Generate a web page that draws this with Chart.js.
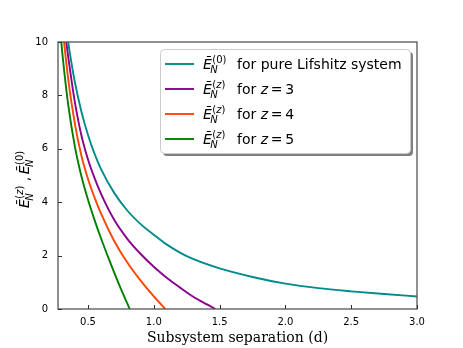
<!DOCTYPE html>
<html>
<head>
<meta charset="utf-8">
<script src="https://cdn.jsdelivr.net/npm/chart.js@4"></script>
<style>
    body { margin: 0; background: #fff; }
    canvas { display: block; }
</style>
</head>
<body>
<canvas id="myChart" width="463" height="348"></canvas>
<script>
// Data: subsystem separation d and negativity values
const dPure = [0.34, 0.36, 0.40, 0.45, 0.50, 0.55, 0.60, 0.70, 0.80, 0.90, 1.00, 1.10, 1.25, 1.50, 1.75, 2.00, 2.25, 2.50, 2.75, 3.00];
const ePure = [10.33, 9.65, 8.5, 7.39, 6.52, 5.81, 5.23, 4.34, 3.68, 3.18, 2.78, 2.41, 1.98, 1.52, 1.2, 0.95, 0.78, 0.66, 0.56, 0.47];

const dZ3 = [0.32, 0.335, 0.35, 0.375, 0.40, 0.45, 0.50, 0.55, 0.60, 0.70, 0.80, 0.90, 1.00, 1.10, 1.20, 1.30, 1.40, 1.468];
const eZ3 = [10.65, 10.0, 9.42, 8.55, 7.75, 6.5, 5.6, 4.9, 4.3, 3.33, 2.62, 2.06, 1.58, 1.16, 0.8, 0.46, 0.18, 0];

const dZ4 = [0.30, 0.318, 0.35, 0.40, 0.45, 0.50, 0.55, 0.60, 0.70, 0.80, 0.90, 1.00, 1.088];
const eZ4 = [10.9, 10.0, 8.59, 6.94, 5.74, 4.87, 4.17, 3.56, 2.54, 1.73, 1.06, 0.47, 0];

const dZ5 = [0.28, 0.297, 0.32, 0.35, 0.40, 0.45, 0.50, 0.55, 0.60, 0.65, 0.70, 0.75, 0.80, 0.817];
const eZ5 = [11.05, 10.0, 8.87, 7.64, 6.09, 4.97, 4.09, 3.33, 2.63, 1.98, 1.35, 0.75, 0.19, 0];

const xTicks = [0.5, 1.0, 1.5, 2.0, 2.5, 3.0];
const yTicks = [0, 2, 4, 6, 8, 10];

const seriesSup = ['0', 'z', 'z', 'z'];
const seriesZ = [null, '3', '4', '5'];
const colors = ['#008b8b', '#8b008b', '#ff4500', '#008000'];

const toPoints = (xs, ys) => xs.map((x, i) => ({ x: x, y: ys[i] }));
const allData = [toPoints(dPure, ePure), toPoints(dZ3, eZ3), toPoints(dZ4, eZ4), toPoints(dZ5, eZ5)];

const FONT = '"DejaVu Sans"';

// draws a list of text runs left to right, returns end x
function drawRuns(ctx, runs, x, y) {
    runs.forEach(r => {
        ctx.font = (r.italic ? 'italic ' : '') + r.size + 'px ' + FONT;
        ctx.fillText(r.t, x, y + (r.dy || 0));
        x += ctx.measureText(r.t).width;
    });
    return x;
}

// E-bar with subscript N and superscript (sup)
function drawEbar(ctx, x, y, sup, size) {
    ctx.font = 'italic ' + size + 'px ' + FONT;
    ctx.fillText('\u0112', x, y);
    const w = ctx.measureText('\u0112').width;
    const s = Math.round(size * 0.7);
    const supEnd = drawRuns(ctx, [
        { t: '(', size: s },
        { t: sup, size: s, italic: sup === 'z' },
        { t: ')', size: s }
    ], x + w + 0.5, y - size * 0.42);
    ctx.font = 'italic ' + s + 'px ' + FONT;
    ctx.fillText('N', x + w - 1.5, y + size * 0.25);
    const subEnd = x + w - 1.5 + ctx.measureText('N').width;
    return Math.max(supEnd, subEnd);
}

const decorations = {
    id: 'decorations',
    afterDraw(chart) {
        const { ctx, chartArea: a, scales: { x, y } } = chart;
        ctx.save();

        // frame
        ctx.strokeStyle = '#555';
        ctx.lineWidth = 1.3;
        ctx.strokeRect(a.left, a.top, a.right - a.left, a.bottom - a.top);

        // inward ticks
        ctx.beginPath();
        ctx.lineWidth = 1;
        ctx.strokeStyle = '#333';
        xTicks.forEach(v => {
            const px = Math.round(x.getPixelForValue(v)) + 0.5;
            ctx.moveTo(px, a.bottom);
            ctx.lineTo(px, a.bottom - 4);
        });
        yTicks.forEach(v => {
            const py = Math.round(y.getPixelForValue(v)) + 0.5;
            ctx.moveTo(a.left, py);
            ctx.lineTo(a.left + 4, py);
        });
        ctx.stroke();

        // legend box with shadow
        const bx = 160, by = 49, bw = 250, bh = 104;
        ctx.fillStyle = 'rgba(0,0,0,0.5)';
        ctx.beginPath();
        ctx.roundRect(bx + 3, by + 3, bw, bh, 4);
        ctx.fill();
        ctx.fillStyle = '#fff';
        ctx.strokeStyle = '#ccc';
        ctx.lineWidth = 1;
        ctx.beginPath();
        ctx.roundRect(bx + 0.5, by + 0.5, bw, bh, 4);
        ctx.fill();
        ctx.stroke();

        ctx.textBaseline = 'alphabetic';
        ctx.textAlign = 'left';
        seriesSup.forEach((sup, i) => {
            const rowY = 64 + i * 25;
            ctx.strokeStyle = colors[i];
            ctx.lineWidth = 1.9;
            ctx.beginPath();
            ctx.moveTo(165, rowY);
            ctx.lineTo(194, rowY);
            ctx.stroke();
            ctx.fillStyle = '#000';
            drawEbar(ctx, 203, rowY + 5, sup, 14);
            if (seriesZ[i] === null) {
                drawRuns(ctx, [{ t: 'for pure Lifshitz system', size: 14 }], 237, rowY + 5);
            } else {
                drawRuns(ctx, [
                    { t: 'for ', size: 14 },
                    { t: 'z', size: 14, italic: true },
                    { t: '\u2009=\u2009' + seriesZ[i], size: 14 }
                ], 237, rowY + 5);
            }
        });

        // y axis title (rotated)
        ctx.translate(29, 178);
        ctx.rotate(-Math.PI / 2);
        ctx.fillStyle = '#000';
        let cx = drawEbar(ctx, -30, 0, 'z', 14);
        cx = drawRuns(ctx, [{ t: ' , ', size: 14 }], cx, 0);
        drawEbar(ctx, cx - 2, 0, '0', 14);

        ctx.restore();
    }
};

const ctx = document.getElementById('myChart').getContext('2d');
const myChart = new Chart(ctx, {
    type: 'line',
    data: {
        datasets: allData.map((pts, i) => ({
            data: pts,
            borderColor: colors[i],
            borderWidth: 1.9,
            pointRadius: 0,
            fill: false,
            cubicInterpolationMode: 'monotone'
        }))
    },
    options: {
        responsive: false,
        animation: false,
        layout: { padding: { top: 42, right: 46, left: 0, bottom: 0 } },
        plugins: {
            legend: { display: false },
            tooltip: { enabled: false }
        },
        scales: {
            x: {
                type: 'linear',
                min: 0.272,
                max: 3.0,
                afterBuildTicks: s => { s.ticks = xTicks.map(v => ({ value: v })); },
                afterFit: s => { s.height = 39; },
                grid: { display: false, drawTicks: false },
                border: { display: false },
                ticks: {
                    padding: 7,
                    color: '#000',
                    maxRotation: 0,
                    font: { family: 'DejaVu Sans', size: 10 },
                    callback: v => v.toFixed(1)
                },
                title: {
                    display: true,
                    text: 'Subsystem separation (d)',
                    color: '#000',
                    font: { family: 'DejaVu Serif', size: 14 },
                    padding: { top: 0, bottom: 1 }
                }
            },
            y: {
                min: 0,
                max: 10,
                afterBuildTicks: s => { s.ticks = yTicks.map(v => ({ value: v })); },
                afterFit: s => { s.width = 58; },
                grid: { display: false, drawTicks: false },
                border: { display: false },
                ticks: {
                    padding: 10,
                    color: '#000',
                    font: { family: 'DejaVu Sans', size: 10 }
                }
            }
        }
    },
    plugins: [decorations]
});
</script>
</body>
</html>
